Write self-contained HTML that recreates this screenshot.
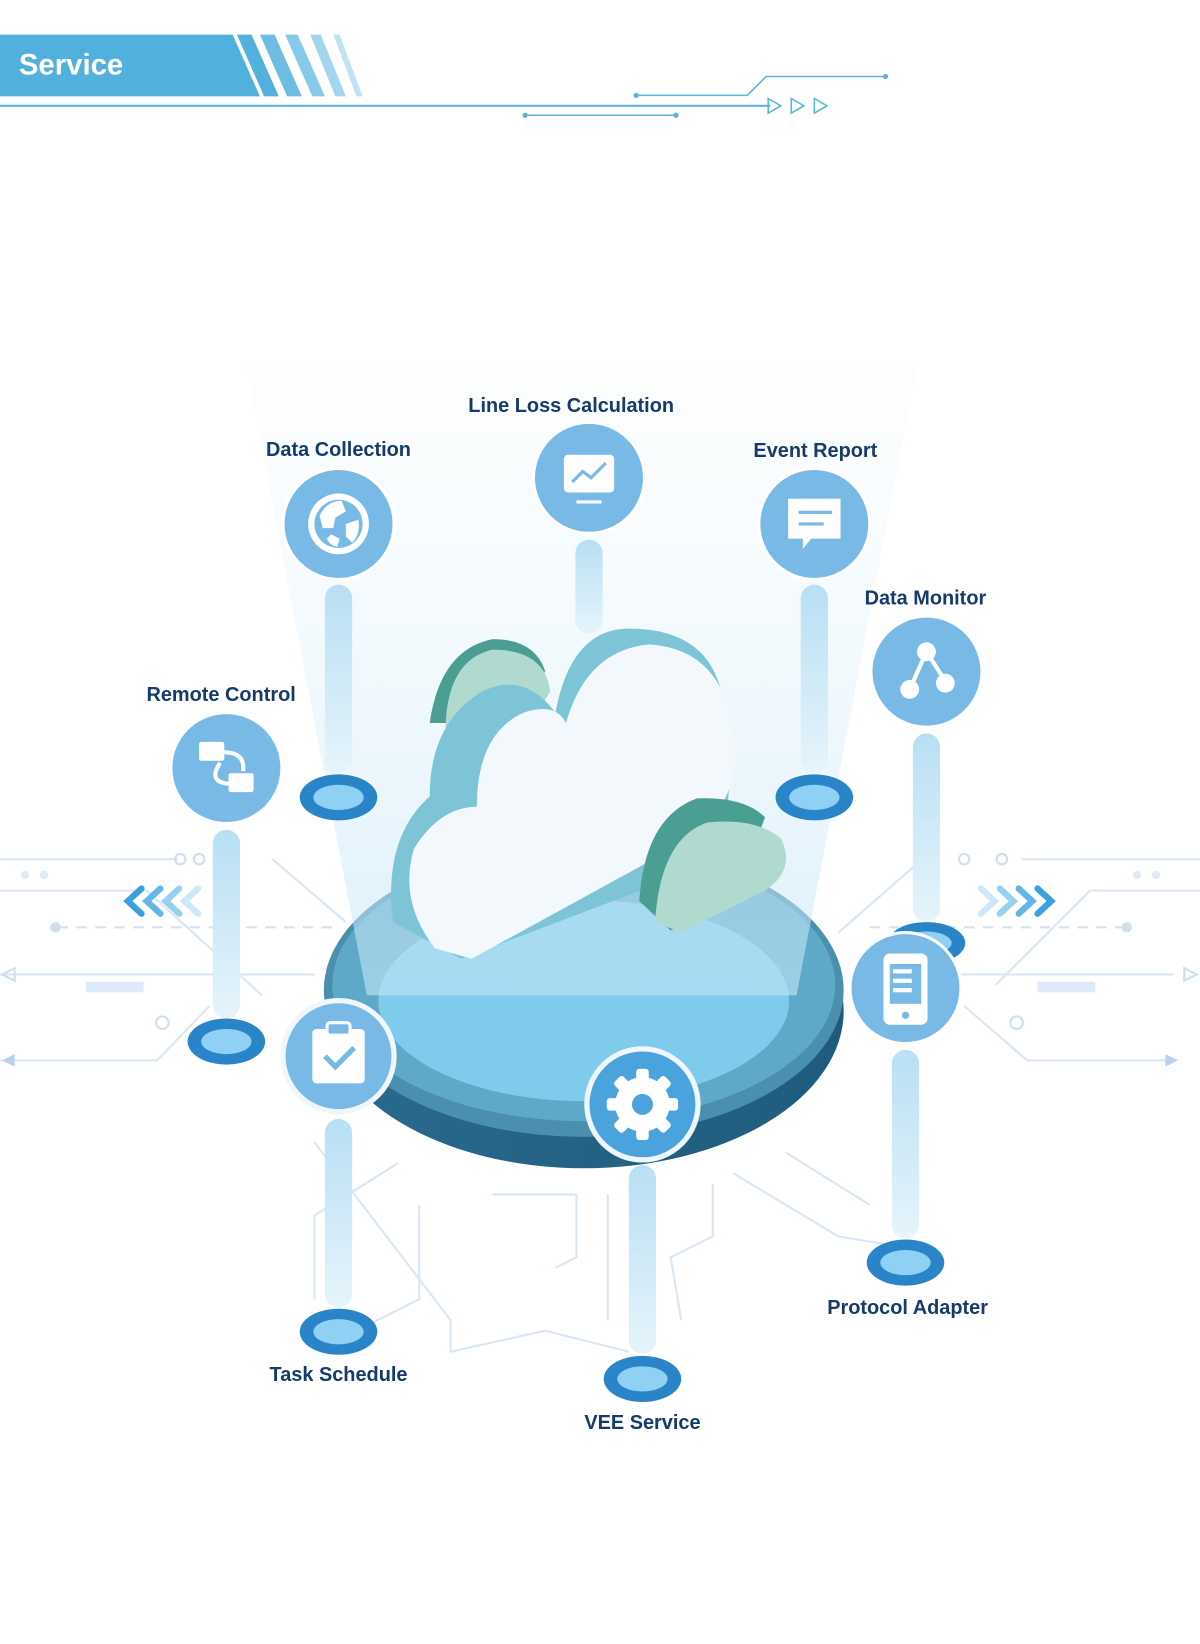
<!DOCTYPE html>
<html><head><meta charset="utf-8">
<style>
html,body{margin:0;padding:0;background:#fff;}
svg{display:block;}
text{font-family:"Liberation Sans",sans-serif;font-weight:bold;}
</style></head>
<body>
<svg width="1200" height="1644" viewBox="0 0 1145 1569" preserveAspectRatio="none" xmlns="http://www.w3.org/2000/svg">
<defs>
<linearGradient id="beam" x1="0" y1="0" x2="0" y2="1">
<stop offset="0" stop-color="#eef7fc" stop-opacity="0.15"/>
<stop offset="1" stop-color="#c5e6f7" stop-opacity="0.6"/>
</linearGradient>
<linearGradient id="pil" x1="0" y1="0" x2="0" y2="1">
<stop offset="0" stop-color="#b8dff4"/>
<stop offset="1" stop-color="#e6f4fb"/>
</linearGradient>
<linearGradient id="side" x1="0" y1="0" x2="1" y2="0">
<stop offset="0" stop-color="#2a6a8c"/>
<stop offset="1" stop-color="#1f5b7c"/>
</linearGradient>
</defs>

<!-- header -->
<polygon points="0,33 222,33 248,92 0,92" fill="#52b0dc"/>
<polygon points="226,33 240,33 266,92 252,92" fill="#52b0dc"/>
<polygon points="248,33 262,33 288,92 274,92" fill="#6dbde3"/>
<polygon points="272,33 284,33 310,92 298,92" fill="#86c9e8"/>
<polygon points="296,33 306,33 330,92 320,92" fill="#a3d6ee"/>
<polygon points="318,33 324,33 346,92 340,92" fill="#bfe3f4"/>
<text x="18" y="71" font-size="28" fill="#fff">Service</text>
<line x1="0" y1="101" x2="735" y2="101" stroke="#5ab4e0" stroke-width="2"/>
<line x1="501" y1="110" x2="645" y2="110" stroke="#5ab4e0" stroke-width="1.5"/>
<circle cx="501" cy="110" r="2.5" fill="#5ab4e0"/><circle cx="645" cy="110" r="2.5" fill="#5ab4e0"/>
<polyline points="607,91 713,91 731,73 845,73" fill="none" stroke="#5ab4e0" stroke-width="1.5"/>
<circle cx="607" cy="91" r="2.5" fill="#5ab4e0"/><circle cx="845" cy="73" r="2.5" fill="#5ab4e0"/>
<g fill="none" stroke="#5ab4e0" stroke-width="1.5">
<polygon points="733,94 745,101 733,108"/><polygon points="755,94 767,101 755,108"/><polygon points="777,94 789,101 777,108"/>
</g>

<!-- circuit lines background -->
<g fill="none" stroke="#d9e6f3" stroke-width="2">
<line x1="0" y1="820" x2="170" y2="820"/><line x1="0" y1="850" x2="140" y2="850"/>
<polyline points="0,930 300,930"/><polyline points="0,1012 150,1012 200,960"/>
<polyline points="260,820 330,880"/><polyline points="140,850 250,950"/>
<line x1="975" y1="820" x2="1145" y2="820"/><polyline points="1145,850 1040,850 950,940"/>
<polyline points="820,930 1120,930"/><polyline points="1120,1012 980,1012 920,960"/>
<polyline points="880,820 800,890"/>
<polyline points="300,1090 430,1260 430,1290 520,1270 600,1290"/>
<polyline points="400,1150 400,1240 340,1270"/><polyline points="470,1140 550,1140 550,1200 530,1210"/>
<polyline points="680,1130 680,1180 640,1200 650,1260"/><polyline points="750,1100 830,1150"/>
<polyline points="580,1140 580,1260"/><polyline points="380,1110 300,1160 300,1240"/>
<polyline points="700,1120 800,1180 860,1190"/>
</g>
<g fill="none" stroke="#d5e2ef" stroke-width="2" stroke-dasharray="10 8">
<line x1="55" y1="885" x2="320" y2="885"/><line x1="830" y1="885" x2="1075" y2="885"/>
</g>
<circle cx="53" cy="885" r="5" fill="#cfdff0"/><circle cx="1075" cy="885" r="5" fill="#cfdff0"/>
<g fill="none" stroke="#cfdff0" stroke-width="2">
<circle cx="172" cy="820" r="5"/><circle cx="190" cy="820" r="5"/><circle cx="155" cy="976" r="6"/>
<circle cx="920" cy="820" r="5"/><circle cx="956" cy="820" r="5"/><circle cx="970" cy="976" r="6"/>
<polygon points="2,930 14,924 14,936"/><polygon points="1142,930 1130,924 1130,936"/>
</g>
<rect x="82" y="937" width="55" height="10" fill="#dcebf7"/><rect x="990" y="937" width="55" height="10" fill="#dcebf7"/>
<g fill="#e0ebf6"><circle cx="24" cy="835" r="4"/><circle cx="42" cy="835" r="4"/><circle cx="1085" cy="835" r="4"/><circle cx="1103" cy="835" r="4"/></g>
<g fill="none" stroke-width="6" stroke-linecap="round">
<polyline points="135,848 122,860 135,872" stroke="#3aa0e0"/><polyline points="153,848 140,860 153,872" stroke="#62b6e8"/>
<polyline points="171,848 158,860 171,872" stroke="#98d0f0"/><polyline points="189,848 176,860 189,872" stroke="#cfe8f7"/>
<polyline points="990,848 1003,860 990,872" stroke="#3aa0e0"/><polyline points="972,848 985,860 972,872" stroke="#62b6e8"/>
<polyline points="954,848 967,860 954,872" stroke="#98d0f0"/><polyline points="936,848 949,860 936,872" stroke="#cfe8f7"/>
</g>
<polygon points="1112,1006 1124,1012 1112,1018" fill="#b5d2ee"/><polygon points="14,1006 2,1012 14,1018" fill="#b5d2ee"/>

<!-- platform -->
<ellipse cx="557" cy="965" rx="248" ry="150" fill="url(#side)"/>
<ellipse cx="557" cy="945" rx="248" ry="140" fill="#4a8fae"/>
<ellipse cx="557" cy="940" rx="240" ry="130" fill="#5ea9c8"/>
<ellipse cx="557" cy="955" rx="196" ry="96" fill="#7ecbec"/>

<!-- beam -->
<polygon points="235,350 875,350 760,950 350,950" fill="url(#beam)"/>

<!-- cloud -->
<g>
<path d="M410,690 Q420,620 470,610 Q510,610 520,640 L510,690 Z" fill="#4a9e92"/>
<path d="M425,700 Q425,630 470,620 Q520,620 525,660 L500,700 Z" fill="#b0d9d0"/>
<path d="M375,880 Q365,800 410,760 Q410,690 460,660 Q500,640 530,680 Q545,600 600,600 Q680,600 690,670 L700,700 L690,820 L440,915 Z" fill="#7cc4d6"/>
<path d="M415,905 Q380,860 395,810 Q420,770 455,770 Q455,700 500,680 Q530,670 540,690 Q560,620 620,615 Q690,620 700,700 Q710,760 660,800 L450,915 Z" fill="#f2f8fb"/>
<path d="M610,860 Q615,780 665,762 Q710,760 730,780 L700,860 L640,888 Z" fill="#4a9e92"/>
<path d="M625,880 Q630,800 675,785 Q720,780 745,800 Q760,830 730,850 L650,890 Z" fill="#b0d9d0"/>
</g>

<!-- pillars -->
<g fill="url(#pil)">
<rect x="310" y="558" width="26" height="180" rx="13"/>
<rect x="549" y="515" width="26" height="90" rx="13"/>
<rect x="764" y="558" width="26" height="180" rx="13"/>
<rect x="871" y="700" width="26" height="180" rx="13"/>
<rect x="203" y="792" width="26" height="180" rx="13"/>
<rect x="310" y="1068" width="26" height="180" rx="13"/>
<rect x="600" y="1112" width="26" height="180" rx="13"/>
<rect x="851" y="1002" width="26" height="180" rx="13"/>
</g>

<!-- pads -->
<g>
<g transform="translate(323,761)"><ellipse rx="37" ry="22" fill="#2a85c8"/><ellipse rx="24" ry="12" fill="#8fd0f5"/></g>
<g transform="translate(777,761)"><ellipse rx="37" ry="22" fill="#2a85c8"/><ellipse rx="24" ry="12" fill="#8fd0f5"/></g>
<g transform="translate(216,994)"><ellipse rx="37" ry="22" fill="#2a85c8"/><ellipse rx="24" ry="12" fill="#8fd0f5"/></g>
<g transform="translate(323,1271)"><ellipse rx="37" ry="22" fill="#2a85c8"/><ellipse rx="24" ry="12" fill="#8fd0f5"/></g>
<g transform="translate(613,1316)"><ellipse rx="37" ry="22" fill="#2a85c8"/><ellipse rx="24" ry="12" fill="#8fd0f5"/></g>
<g transform="translate(864,1205)"><ellipse rx="37" ry="22" fill="#2a85c8"/><ellipse rx="24" ry="12" fill="#8fd0f5"/></g>
<g transform="translate(884,900)"><ellipse rx="37" ry="20" fill="#2a85c8"/><ellipse rx="24" ry="11" fill="#8fd0f5"/></g>
</g>

<!-- icon circles -->
<g fill="#78b9e6" stroke="#fff" stroke-width="3">
<circle cx="323" cy="500" r="53"/>
<circle cx="562" cy="456" r="53"/>
<circle cx="777" cy="500" r="53"/>
<circle cx="884" cy="641" r="53"/>
<circle cx="216" cy="733" r="53"/>
<circle cx="864" cy="943" r="53"/>
</g>
<circle cx="323" cy="1008" r="53" fill="#78b9e6" stroke="#f0f7fc" stroke-width="5"/>
<circle cx="613" cy="1054" r="53" fill="#4aa3dc" stroke="#f0f7fc" stroke-width="5"/>

<!-- icons -->
<circle cx="323" cy="500" r="29" fill="#fff"/>
<circle cx="323" cy="500" r="23" fill="#78b9e6"/>
<path d="M305,492 Q312,478 326,478 L330,488 L320,494 L318,504 L308,504 Z M330,500 L342,496 Q344,510 336,518 L330,512 Z M316,510 L324,514 L322,522 Q314,520 312,514 Z" fill="#fff"/>
<rect x="538" y="434" width="48" height="36" rx="4" fill="#fff"/>
<polyline points="546,460 556,450 564,456 578,442" fill="none" stroke="#78b9e6" stroke-width="3"/>
<line x1="550" y1="479" x2="574" y2="479" stroke="#fff" stroke-width="3"/>
<path d="M752,476 h50 v38 h-28 l-8,10 v-10 h-14 z" fill="#fff"/>
<g stroke="#78b9e6" stroke-width="3"><line x1="762" y1="489" x2="794" y2="489"/><line x1="762" y1="500" x2="786" y2="500"/></g>
<g stroke="#fff" stroke-width="4"><line x1="884" y1="622" x2="868" y2="658"/><line x1="884" y1="622" x2="902" y2="650"/></g>
<g fill="#fff"><circle cx="884" cy="622" r="9"/><circle cx="868" cy="658" r="9"/><circle cx="902" cy="652" r="9"/></g>
<rect x="190" y="708" width="24" height="18" rx="2" fill="#fff"/>
<rect x="218" y="738" width="24" height="18" rx="2" fill="#fff"/>
<path d="M214,718 Q234,718 232,736 M210,728 Q198,746 218,748" fill="none" stroke="#fff" stroke-width="4"/>
<rect x="298" y="982" width="50" height="52" rx="4" fill="#fff"/>
<rect x="312" y="976" width="22" height="12" rx="3" fill="#78b9e6" stroke="#fff" stroke-width="3"/>
<polyline points="310,1008 320,1018 338,1000" fill="none" stroke="#78b9e6" stroke-width="5"/>
<circle cx="613" cy="1054" r="26" fill="#fff"/>
<g fill="#fff"><rect x="607" y="1020" width="12" height="68" rx="3"/><rect x="579" y="1048" width="68" height="12" rx="3"/>
<rect x="607" y="1020" width="12" height="68" rx="3" transform="rotate(45 613 1054)"/><rect x="607" y="1020" width="12" height="68" rx="3" transform="rotate(-45 613 1054)"/></g>
<circle cx="613" cy="1054" r="10" fill="#4aa3dc"/>
<rect x="843" y="910" width="42" height="68" rx="6" fill="#fff"/>
<rect x="849" y="920" width="30" height="38" fill="#78b9e6"/>
<g fill="#fff"><rect x="852" y="925" width="18" height="4"/><rect x="852" y="934" width="18" height="4"/><rect x="852" y="943" width="18" height="4"/></g>
<circle cx="864" cy="969" r="3.5" fill="#78b9e6"/>

<!-- labels -->
<g font-size="19" fill="#163a6b" text-anchor="middle">
<text x="545" y="393">Line Loss Calculation</text>
<text x="323" y="435">Data Collection</text>
<text x="778" y="436">Event Report</text>
<text x="883" y="577">Data Monitor</text>
<text x="211" y="669">Remote  Control</text>
<text x="323" y="1318">Task Schedule</text>
<text x="613" y="1364">VEE Service</text>
<text x="866" y="1254">Protocol Adapter</text>
</g>
</svg>
</body></html>
